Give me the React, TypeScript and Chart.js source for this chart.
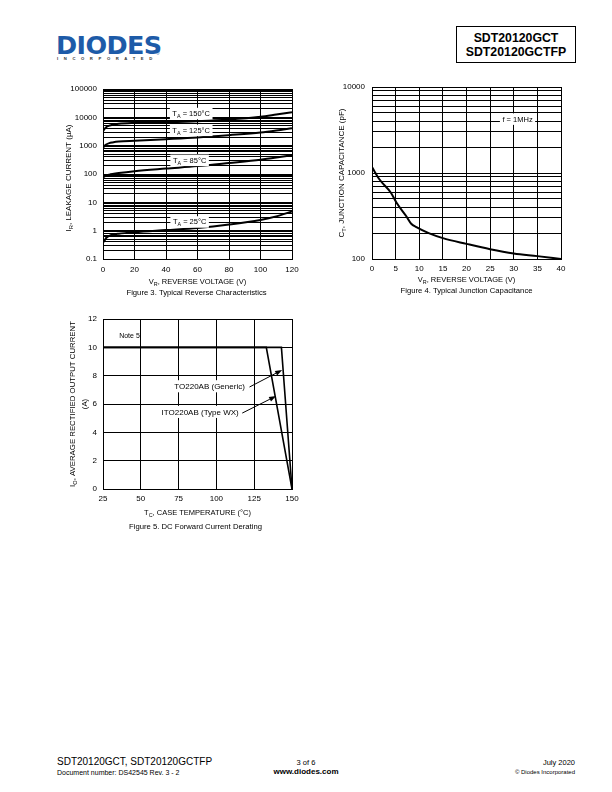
import React, { useEffect, useRef } from 'react';
import { Chart, registerables } from 'chart.js';

Chart.register(...registerables);

const FONT = '"Liberation Sans", Arial, Helvetica, sans-serif';
Chart.defaults.font.family = FONT;
Chart.defaults.color = '#000';

// ---------------- Figure 3: Typical Reverse Characteristics ----------------
const fig3Voltage = [0, 1, 2, 4, 6, 10, 20, 40, 60, 80, 100, 110, 120];
const fig3Current150 = [3200, 3900, 4500, 5100, 5500, 5900, 6300, 6700, 7300, 8400, 10500, 12500, 15000];
const fig3Current125 = [830, 1000, 1100, 1230, 1300, 1400, 1500, 1700, 1950, 2350, 2900, 3400, 4100];
const fig3Current85 = [76, 82, 88, 95, 100, 108, 125, 155, 190, 245, 320, 380, 460];
const fig3Current25 = [0.38, 0.45, 0.55, 0.66, 0.72, 0.78, 0.88, 1.05, 1.25, 1.65, 2.4, 3.2, 4.8];
const fig3Temps = ['150', '125', '85', '25'];
const fig3LabelVoltage = [56, 56, 55, 55];
const fig3LabelCurrent = [13900, 3550, 310, 2.07];
const fig3Decades = [0.1, 1, 10, 100, 1000, 10000, 100000];
const fig3DecadeLabels = ['0.1', '1', '10', '100', '1000', '10000', '100000'];
const fig3XMin = 0;
const fig3XMax = 120;
const fig3XStep = 20;

// ---------------- Figure 4: Typical Junction Capacitance ----------------
const fig4Voltage = [0, 1.6, 4, 5.2, 7.3, 8.3, 9.4, 12, 15, 20, 25, 30, 35, 40];
const fig4Capacitance = [1170, 840, 590, 450, 312, 257, 235, 200, 175, 150, 130, 116, 108, 100];
const fig4Decades = [100, 1000, 10000];
const fig4DecadeLabels = ['100', '1000', '10000'];
const fig4XMin = 0;
const fig4XMax = 40;
const fig4XStep = 5;
const fig4NoteText = 'f = 1MHz';
const fig4NoteVoltage = 30.8;
const fig4NoteCap = 4260;

// ---------------- Figure 5: DC Forward Current Derating ----------------
const fig5TempGeneric = [25, 143, 150];
const fig5CurrentGeneric = [10, 10, 0];
const fig5TempWX = [25, 133, 150];
const fig5CurrentWX = [10, 10, 0];
const fig5XMin = 25;
const fig5XMax = 150;
const fig5XStep = 25;
const fig5YMin = 0;
const fig5YMax = 12;
const fig5YStep = 2;
const fig5NoteText = 'Note 5';
const fig5NoteAt = [42.5, 10.85];
const fig5LabelTexts = ['TO220AB (Generic)', 'ITO220AB (Type WX)'];
const fig5LabelAt = [[118.8, 7.27], [114.8, 5.46]];
const fig5ArrowTail = [[121.9, 7.2], [117.1, 5.36]];
const fig5ArrowHead = [[143.5, 8.4], [139.5, 6.56]];

type Part = [string, boolean];

function drawRich(
  ctx: CanvasRenderingContext2D,
  parts: Part[],
  x: number,
  y: number,
  size: number,
  opts: { rot?: number; align?: 'left' | 'center' | 'right'; bg?: boolean; bold?: boolean } = {}
) {
  const subSize = size * 0.72;
  const weight = opts.bold ? 'bold ' : '';
  ctx.save();
  ctx.translate(x, y);
  ctx.rotate(opts.rot || 0);
  const widths = parts.map(([t, sub]) => {
    ctx.font = `${weight}${sub ? subSize : size}px ${FONT}`;
    return ctx.measureText(t).width;
  });
  const total = widths.reduce((a, b) => a + b, 0);
  const align = opts.align || 'center';
  let cx = align === 'center' ? -total / 2 : align === 'right' ? -total : 0;
  if (opts.bg) {
    ctx.fillStyle = '#fff';
    ctx.fillRect(cx - 2.5, -size * 0.6 - 1, total + 5, size * 1.2 + 2.5);
  }
  ctx.fillStyle = '#000';
  ctx.textBaseline = 'alphabetic';
  ctx.textAlign = 'left';
  parts.forEach(([t, sub], i) => {
    ctx.font = `${weight}${sub ? subSize : size}px ${FONT}`;
    ctx.fillText(t, cx, size * 0.36 + (sub ? size * 0.25 : 0));
    cx += widths[i];
  });
  ctx.restore();
}

function logTicks(decades: number[]) {
  const out: { value: number }[] = [];
  for (let i = 0; i < decades.length - 1; i++) {
    for (let m = 1; m < 10; m++) out.push({ value: decades[i] * m });
  }
  out.push({ value: decades[decades.length - 1] });
  return out;
}

function decadeLabel(decades: number[], labels: string[]) {
  return (v: any) => {
    const val = Number(v);
    const i = decades.findIndex((d) => Math.abs(d - val) / d < 1e-6);
    return i >= 0 ? labels[i] : '';
  };
}

const gridOpts = { color: '#000', lineWidth: 1, drawTicks: false };
const borderOpts = { display: true, color: '#000', width: 1 };

function fixY(width: number) {
  return (s: any) => {
    s.width = width;
    s.paddingTop = 0;
    s.paddingBottom = 0;
  };
}
function fixX(height: number) {
  return (s: any) => {
    s.height = height;
    s.paddingLeft = 0;
    s.paddingRight = 0;
  };
}

function toPoints(xs: number[], ys: number[]) {
  return xs.map((x, i) => ({ x, y: ys[i] }));
}

function lineDs(xs: number[], ys: number[], smooth: boolean, width = 2) {
  return {
    data: toPoints(xs, ys),
    borderColor: '#000',
    borderWidth: width,
    pointRadius: 0,
    fill: false,
    tension: smooth ? 0.4 : 0,
    cubicInterpolationMode: smooth ? ('monotone' as const) : ('default' as const),
  };
}

const CAPTION = 7.7;
const AXIS_TITLE = 7.5;
const Y_TITLE = 8;

function buildFig3(): any {
  const series = [fig3Current150, fig3Current125, fig3Current85, fig3Current25];
  return {
    type: 'line',
    data: { datasets: series.map((s) => lineDs(fig3Voltage, s, true, 2)) },
    options: {
      animation: false,
      responsive: false,
      events: [],
      layout: { padding: { top: 9, right: 18, left: 0, bottom: 0 } },
      plugins: { legend: { display: false }, tooltip: { enabled: false } },
      scales: {
        x: {
          type: 'linear',
          min: fig3XMin,
          max: fig3XMax,
          grid: gridOpts,
          border: borderOpts,
          ticks: { stepSize: fig3XStep, font: { size: 8 }, padding: 6, color: '#000', maxRotation: 0 },
          afterFit: fixX(46),
        },
        y: {
          type: 'logarithmic',
          min: fig3Decades[0],
          max: fig3Decades[fig3Decades.length - 1],
          grid: gridOpts,
          border: borderOpts,
          afterBuildTicks: (axis: any) => {
            axis.ticks = logTicks(fig3Decades);
          },
          ticks: {
            autoSkip: false,
            font: { size: 8 },
            padding: 6,
            color: '#000',
            callback: decadeLabel(fig3Decades, fig3DecadeLabels),
          },
          afterFit: fixY(63),
        },
      },
    },
    plugins: [
      {
        id: 'fig3text',
        afterDraw(chart: any) {
          const ctx = chart.ctx;
          const a = chart.chartArea;
          const xs = chart.scales.x;
          const ys = chart.scales.y;
          fig3Temps.forEach((t, i) => {
            drawRich(
              ctx,
              [['T', false], ['A', true], [` = ${t}°C`, false]],
              xs.getPixelForValue(fig3LabelVoltage[i]),
              ys.getPixelForValue(fig3LabelCurrent[i]),
              7.5,
              { bg: true }
            );
          });
          const cx = (a.left + a.right) / 2;
          drawRich(ctx, [['V', false], ['R', true], [', REVERSE VOLTAGE (V)', false]], cx, a.bottom + 22, AXIS_TITLE);
          drawRich(ctx, [['Figure 3. Typical Reverse Characteristics', false]], cx - 1, a.bottom + 33.5, CAPTION);
          drawRich(
            ctx,
            [['I', false], ['R', true], [', LEAKAGE CURRENT (µA)', false]],
            a.left - 35,
            (a.top + a.bottom) / 2 + 4,
            Y_TITLE,
            { rot: -Math.PI / 2 }
          );
        },
      },
    ],
  };
}

function buildFig4(): any {
  return {
    type: 'line',
    data: { datasets: [lineDs(fig4Voltage, fig4Capacitance, true, 2)] },
    options: {
      animation: false,
      responsive: false,
      events: [],
      layout: { padding: { top: 7, right: 29, left: 0, bottom: 0 } },
      plugins: { legend: { display: false }, tooltip: { enabled: false } },
      scales: {
        x: {
          type: 'linear',
          min: fig4XMin,
          max: fig4XMax,
          grid: gridOpts,
          border: borderOpts,
          ticks: { stepSize: fig4XStep, font: { size: 8 }, padding: 5, color: '#000', maxRotation: 0 },
          afterFit: fixX(46),
        },
        y: {
          type: 'logarithmic',
          min: fig4Decades[0],
          max: fig4Decades[fig4Decades.length - 1],
          grid: gridOpts,
          border: borderOpts,
          afterBuildTicks: (axis: any) => {
            axis.ticks = logTicks(fig4Decades);
          },
          ticks: {
            autoSkip: false,
            font: { size: 8 },
            padding: 7,
            color: '#000',
            callback: decadeLabel(fig4Decades, fig4DecadeLabels),
          },
          afterFit: fixY(52),
        },
      },
    },
    plugins: [
      {
        id: 'fig4text',
        afterDraw(chart: any) {
          const ctx = chart.ctx;
          const a = chart.chartArea;
          const xs = chart.scales.x;
          const ys = chart.scales.y;
          drawRich(ctx, [[fig4NoteText, false]], xs.getPixelForValue(fig4NoteVoltage), ys.getPixelForValue(fig4NoteCap), 7.5, {
            bg: true,
          });
          const cx = (a.left + a.right) / 2;
          drawRich(ctx, [['V', false], ['R', true], [', REVERSE VOLTAGE (V)', false]], cx, a.bottom + 20, AXIS_TITLE);
          drawRich(ctx, [['Figure 4. Typical Junction Capacitance', false]], cx, a.bottom + 31.5, CAPTION);
          drawRich(
            ctx,
            [['C', false], ['T', true], [', JUNCTION CAPACITANCE (pF)', false]],
            a.left - 31,
            (a.top + a.bottom) / 2,
            Y_TITLE,
            { rot: -Math.PI / 2 }
          );
        },
      },
    ],
  };
}

function drawArrow(ctx: CanvasRenderingContext2D, x1: number, y1: number, x2: number, y2: number) {
  const ang = Math.atan2(y2 - y1, x2 - x1);
  const len = 7;
  const hw = 2.6;
  ctx.save();
  ctx.strokeStyle = '#000';
  ctx.fillStyle = '#000';
  ctx.lineWidth = 1;
  ctx.beginPath();
  ctx.moveTo(x1, y1);
  ctx.lineTo(x2 - len * Math.cos(ang), y2 - len * Math.sin(ang));
  ctx.stroke();
  ctx.beginPath();
  ctx.moveTo(x2, y2);
  ctx.lineTo(x2 - len * Math.cos(ang) + hw * Math.sin(ang), y2 - len * Math.sin(ang) - hw * Math.cos(ang));
  ctx.lineTo(x2 - len * Math.cos(ang) - hw * Math.sin(ang), y2 - len * Math.sin(ang) + hw * Math.cos(ang));
  ctx.closePath();
  ctx.fill();
  ctx.restore();
}

function buildFig5(): any {
  return {
    type: 'line',
    data: {
      datasets: [
        lineDs(fig5TempGeneric, fig5CurrentGeneric, false, 1.6),
        lineDs(fig5TempWX, fig5CurrentWX, false, 1.6),
      ],
    },
    options: {
      animation: false,
      responsive: false,
      events: [],
      layout: { padding: { top: 9, right: 18, left: 0, bottom: 0 } },
      plugins: { legend: { display: false }, tooltip: { enabled: false } },
      scales: {
        x: {
          type: 'linear',
          min: fig5XMin,
          max: fig5XMax,
          grid: gridOpts,
          border: borderOpts,
          ticks: { stepSize: fig5XStep, font: { size: 8 }, padding: 5, color: '#000', maxRotation: 0 },
          afterFit: fixX(51),
        },
        y: {
          type: 'linear',
          min: fig5YMin,
          max: fig5YMax,
          grid: gridOpts,
          border: borderOpts,
          ticks: { stepSize: fig5YStep, font: { size: 8 }, padding: 6, color: '#000' },
          afterFit: fixY(63),
        },
      },
    },
    plugins: [
      {
        id: 'fig5text',
        afterDraw(chart: any) {
          const ctx = chart.ctx;
          const a = chart.chartArea;
          const xs = chart.scales.x;
          const ys = chart.scales.y;
          const px = (v: number) => xs.getPixelForValue(v);
          const py = (v: number) => ys.getPixelForValue(v);
          drawRich(ctx, [[fig5NoteText, false]], px(fig5NoteAt[0]), py(fig5NoteAt[1]), 7);
          fig5LabelTexts.forEach((t, i) => {
            drawRich(ctx, [[t, false]], px(fig5LabelAt[i][0]), py(fig5LabelAt[i][1]), 8, { align: 'right', bg: true });
            drawArrow(
              ctx,
              px(fig5ArrowTail[i][0]),
              py(fig5ArrowTail[i][1]),
              px(fig5ArrowHead[i][0]),
              py(fig5ArrowHead[i][1])
            );
          });
          const cx = (a.left + a.right) / 2;
          drawRich(ctx, [['T', false], ['C', true], [', CASE TEMPERATURE (°C)', false]], cx, a.bottom + 23, AXIS_TITLE);
          drawRich(ctx, [['Figure 5. DC Forward Current Derating', false]], cx - 2, a.bottom + 37.5, CAPTION);
          const cy = (a.top + a.bottom) / 2;
          drawRich(ctx, [['I', false], ['O', true], [', AVERAGE RECTIFIED OUTPUT CURRENT', false]], a.left - 31, cy, 7.8, {
            rot: -Math.PI / 2,
          });
          drawRich(ctx, [['(A)', false]], a.left - 19, cy, 7.8, { rot: -Math.PI / 2 });
        },
      },
    ],
  };
}

function ChartCanvas(props: { left: number; top: number; width: number; height: number; build: () => any }) {
  const ref = useRef<HTMLCanvasElement>(null);
  useEffect(() => {
    const chart = new Chart(ref.current as HTMLCanvasElement, props.build());
    return () => chart.destroy();
  }, []);
  return (
    <canvas
      ref={ref}
      width={props.width}
      height={props.height}
      style={{ position: 'absolute', left: props.left, top: props.top, width: props.width, height: props.height }}
    />
  );
}

export default function App() {
  const abs = (s: React.CSSProperties): React.CSSProperties => ({ position: 'absolute', whiteSpace: 'nowrap', ...s });
  return (
    <div
      style={{
        position: 'absolute',
        left: 0,
        top: 0,
        width: 612,
        height: 792,
        background: '#fff',
        fontFamily: FONT,
        color: '#000',
        overflow: 'hidden',
      }}
    >
      {/* Logo */}
      <div
        style={abs({
          left: 56,
          top: 32.5,
          fontFamily: '"DejaVu Sans", sans-serif',
          fontWeight: 'bold',
          fontSize: 25,
          lineHeight: '25px',
          color: '#1d5ba8',
          letterSpacing: -0.6,
          transform: 'scaleX(1.02)',
          transformOrigin: 'left top',
        })}
      >
        DIODES
      </div>
      <div style={abs({ left: 156, top: 51, fontSize: 5, color: '#1d5ba8', lineHeight: '5px' })}>®</div>
      <div
        style={abs({
          left: 57,
          top: 56,
          fontSize: 4.2,
          lineHeight: '5px',
          letterSpacing: 5.6,
          color: '#333',
          fontWeight: 'bold',
        })}
      >
        INCORPORATED
      </div>

      {/* Part number box */}
      <div
        style={abs({
          left: 456,
          top: 26,
          width: 120,
          height: 37,
          boxSizing: 'border-box',
          border: '1.3px solid #000',
          textAlign: 'center',
          fontWeight: 'bold',
          fontSize: 12.3,
          lineHeight: '14px',
          paddingTop: 3.5,
        })}
      >
        SDT20120GCT
        <br />
        SDT20120GCTFP
      </div>

      <ChartCanvas left={40} top={80} width={270} height={225} build={buildFig3} />
      <ChartCanvas left={320} top={80} width={270} height={225} build={buildFig4} />
      <ChartCanvas left={40} top={310} width={270} height={230} build={buildFig5} />

      {/* Footer */}
      <div style={abs({ left: 57, top: 756, fontSize: 10, lineHeight: '12px' })}>SDT20120GCT, SDT20120GCTFP</div>
      <div style={abs({ left: 57, top: 768.5, fontSize: 7, lineHeight: '8px' })}>Document number: DS42545 Rev. 3 - 2</div>
      <div style={abs({ left: 256, width: 100, textAlign: 'center', top: 757.5, fontSize: 7.5, lineHeight: '9px' })}>3 of 6</div>
      <div style={abs({ left: 256, width: 100, textAlign: 'center', top: 767, fontSize: 8, fontWeight: 'bold', lineHeight: '10px' })}>
        www.diodes.com
      </div>
      <div style={abs({ right: 37, top: 757.5, fontSize: 7.5, lineHeight: '9px', textAlign: 'right' })}>July 2020</div>
      <div style={abs({ right: 37, top: 768.5, fontSize: 6, lineHeight: '7px', textAlign: 'right' })}>© Diodes Incorporated</div>
    </div>
  );
}
